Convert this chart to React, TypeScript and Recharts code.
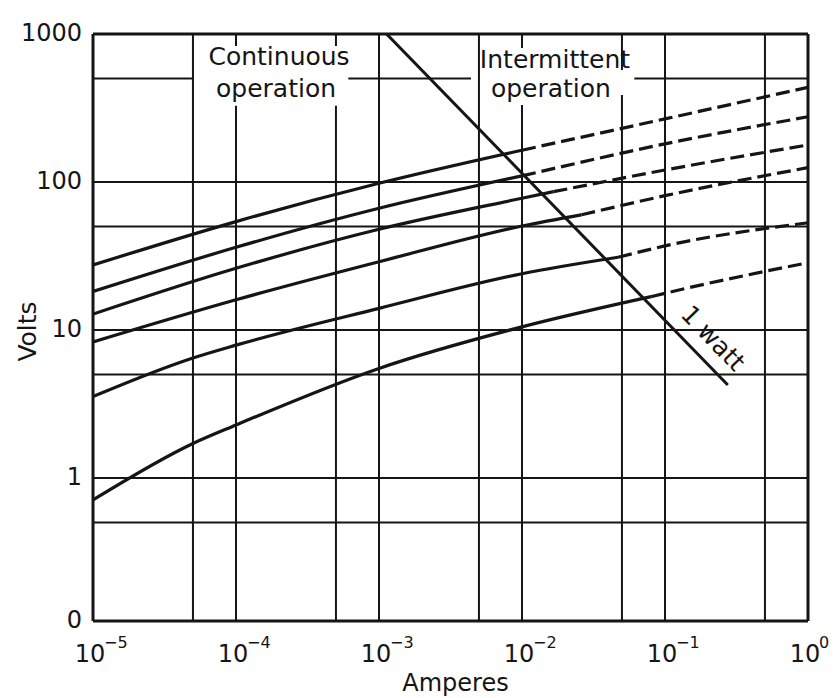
import { LineChart, Line, XAxis, YAxis, ReferenceLine, ReferenceDot } from "recharts";

const FONT = "'DejaVu Sans', sans-serif";
const INK = "#151515";

// log axes: amperes 1e-5..1, volts ~0.1..1000 (bottom line is labelled "0")
const Y_MIN = 0.108;
const X_TICKS = [1e-5, 1e-4, 1e-3, 1e-2, 1e-1, 1];
const X_EXP = ["−5", "−4", "−3", "−2", "−1", "0"];
const Y_TICKS = [Y_MIN, 1, 10, 100, 1000];
const Y_LABELS = ["0", "1", "10", "100", "1000"];

// grid lines, with the gaps left for the two captions
// [amperes, volts from, volts to]
const X_GRID: [number, number, number][] = [
  [5e-5, Y_MIN, 1000],
  [1e-4, Y_MIN, 327], [1e-4, 830, 1000],
  [5e-4, Y_MIN, 327], [5e-4, 830, 1000],
  [1e-3, Y_MIN, 1000],
  [5e-3, Y_MIN, 1000],
  [1e-2, Y_MIN, 331], [1e-2, 804, 1000],
  [5e-2, Y_MIN, 387], [5e-2, 571, 1000],
  [1e-1, Y_MIN, 1000],
  [5e-1, Y_MIN, 1000],
];
// [volts, amperes from, amperes to]
const Y_GRID: [number, number, number][] = [
  [0.5, 1e-5, 1],
  [1, 1e-5, 1],
  [5, 1e-5, 1],
  [10, 1e-5, 1],
  [50, 1e-5, 1],
  [100, 1e-5, 1],
  [500, 1e-5, 5e-5], [500, 6.1e-4, 4.4e-3], [500, 6.1e-2, 1],
];

// V-I curves, solid part (continuous) and dashed part (intermittent)
const C1_SOLID = [{ i: 1e-5, v: 27.5 }, { i: 1e-4, v: 54 }, { i: 1e-3, v: 98 }, { i: 1e-2, v: 164 }];
const C1_DASHED = [{ i: 1e-2, v: 164 }, { i: 1e-1, v: 267 }, { i: 1, v: 436 }];
const C2_SOLID = [{ i: 1e-5, v: 18.2 }, { i: 1e-4, v: 36.2 }, { i: 1e-3, v: 66.4 }, { i: 1e-2, v: 110 }];
const C2_DASHED = [{ i: 1e-2, v: 110 }, { i: 1e-1, v: 181 }, { i: 1, v: 276 }];
const C3_SOLID = [{ i: 1e-5, v: 12.8 }, { i: 1e-4, v: 26.1 }, { i: 1e-3, v: 47.9 }, { i: 1e-2, v: 77.6 }, { i: 1.66e-2, v: 86 }];
const C3_DASHED = [{ i: 1.66e-2, v: 86 }, { i: 1e-1, v: 120.5 }, { i: 1, v: 178 }];
const C4_SOLID = [{ i: 1e-5, v: 8.3 }, { i: 1e-4, v: 16 }, { i: 1e-3, v: 28.9 }, { i: 1e-2, v: 50.4 }, { i: 2.6e-2, v: 60 }];
const C4_DASHED = [{ i: 2.6e-2, v: 60 }, { i: 1e-1, v: 80.8 }, { i: 1, v: 125 }];
const C5_SOLID = [{ i: 1e-5, v: 3.55 }, { i: 5e-5, v: 6.47 }, { i: 1e-4, v: 7.9 }, { i: 1e-3, v: 14 }, { i: 1e-2, v: 24 }, { i: 4.7e-2, v: 31 }];
const C5_DASHED = [{ i: 4.7e-2, v: 31 }, { i: 1e-1, v: 37 }, { i: 1, v: 53 }];
const C6_SOLID = [{ i: 1e-5, v: 0.71 }, { i: 5e-5, v: 1.71 }, { i: 1e-4, v: 2.28 }, { i: 1e-3, v: 5.5 }, { i: 1e-2, v: 10.5 }, { i: 8e-2, v: 16.8 }];
const C6_DASHED = [{ i: 8e-2, v: 16.8 }, { i: 1e-1, v: 17.7 }, { i: 1, v: 28.5 }];

// 1 watt dissipation limit
const WATT_LINE = [{ i: 1.13e-3, v: 1000 }, { i: 0.275, v: 4.25 }];

const CURVES = [
  [C1_SOLID, C1_DASHED],
  [C2_SOLID, C2_DASHED],
  [C3_SOLID, C3_DASHED],
  [C4_SOLID, C4_DASHED],
  [C5_SOLID, C5_DASHED],
  [C6_SOLID, C6_DASHED],
];

const txt = { fontFamily: FONT, fill: INK };

const XTick = ({ x, y, payload }: any) => {
  const k = X_TICKS.indexOf(payload.value);
  return (
    <g>
      <text x={x - 3} y={y + 41} textAnchor="middle" fontSize={24} {...txt}>10</text>
      <text x={x + 11} y={y + 27} textAnchor="start" fontSize={16} {...txt}>{X_EXP[k]}</text>
    </g>
  );
};

const YTick = ({ x, y, payload }: any) => {
  const k = Y_TICKS.indexOf(payload.value);
  return (
    <text x={x - 11} y={y - 1} textAnchor="end" dominantBaseline="central" fontSize={24} {...txt}>
      {Y_LABELS[k]}
    </text>
  );
};

const caption = (top: string, bottom: string, dTop: number, dx2: number) => ({ viewBox }: any) => {
  const cx = viewBox.x + viewBox.width / 2;
  const cy = viewBox.y + viewBox.height / 2;
  return (
    <g>
      <text x={cx} y={cy + dTop} textAnchor="middle" fontSize={25} {...txt}>{top}</text>
      <text x={cx + dx2} y={cy + 16} textAnchor="middle" fontSize={25} {...txt}>{bottom}</text>
    </g>
  );
};

const wattLabel = ({ viewBox }: any) => {
  const cx = viewBox.x + viewBox.width / 2;
  const cy = viewBox.y + viewBox.height / 2;
  return (
    <text
      x={cx}
      y={cy}
      textAnchor="middle"
      dominantBaseline="central"
      fontSize={25}
      transform={`rotate(46 ${cx} ${cy})`}
      {...txt}
    >
      1 watt
    </text>
  );
};

export default function App() {
  return (
    <div style={{ position: "absolute", left: 0, top: 0, width: 838, height: 698, background: "#fff" }}>
      <LineChart width={838} height={698} margin={{ top: 34, right: 30, bottom: 0, left: 0 }}>
        <XAxis
          dataKey="i"
          type="number"
          scale="log"
          domain={[1e-5, 1]}
          allowDataOverflow
          ticks={X_TICKS}
          interval={0}
          height={77}
          axisLine={false}
          tickLine={false}
          tickSize={0}
          tickMargin={0}
          tick={<XTick />}
          label={({ viewBox }: any) => (
            <text x={viewBox.x + viewBox.width / 2 + 5} y={viewBox.y + 70} textAnchor="middle" fontSize={24} {...txt}>
              Amperes
            </text>
          )}
        />
        <YAxis
          dataKey="v"
          type="number"
          scale="log"
          domain={[Y_MIN, 1000]}
          allowDataOverflow
          ticks={Y_TICKS}
          interval={0}
          width={93}
          axisLine={false}
          tickLine={false}
          tickSize={0}
          tickMargin={0}
          tick={<YTick />}
          label={({ viewBox }: any) => {
            const lx = viewBox.x + 27;
            const ly = viewBox.y + viewBox.height / 2 + 4;
            return (
              <text x={lx} y={ly} textAnchor="middle" dominantBaseline="central" fontSize={25}
                transform={`rotate(-90 ${lx} ${ly})`} {...txt}>
                Volts
              </text>
            );
          }}
        />

        {/* grid */}
        {X_GRID.map(([i, a, b], n) => (
          <ReferenceLine key={`vx${n}`} segment={[{ x: i, y: a }, { x: i, y: b }]} stroke={INK} strokeWidth={2} ifOverflow="visible" />
        ))}
        {Y_GRID.map(([v, a, b], n) => (
          <ReferenceLine key={`hy${n}`} segment={[{ x: a, y: v }, { x: b, y: v }]} stroke={INK} strokeWidth={2} ifOverflow="visible" />
        ))}

        {/* frame */}
        <ReferenceLine segment={[{ x: 1e-5, y: Y_MIN }, { x: 1, y: Y_MIN }]} stroke={INK} strokeWidth={3} ifOverflow="visible" />
        <ReferenceLine segment={[{ x: 1e-5, y: 1000 }, { x: 1, y: 1000 }]} stroke={INK} strokeWidth={3} ifOverflow="visible" />
        <ReferenceLine segment={[{ x: 1e-5, y: Y_MIN }, { x: 1e-5, y: 1000 }]} stroke={INK} strokeWidth={3} ifOverflow="visible" />
        <ReferenceLine segment={[{ x: 1, y: Y_MIN }, { x: 1, y: 1000 }]} stroke={INK} strokeWidth={3} ifOverflow="visible" />

        {CURVES.map(([solid, dashed], n) => [
          <Line key={`s${n}`} data={solid} dataKey="v" type="monotone" stroke={INK} strokeWidth={3.2}
            dot={false} activeDot={false} isAnimationActive={false} />,
          <Line key={`d${n}`} data={dashed} dataKey="v" type="monotone" stroke={INK} strokeWidth={3.2}
            strokeDasharray="14 6" dot={false} activeDot={false} isAnimationActive={false} />,
        ])}

        <Line data={WATT_LINE} dataKey="v" type="linear" stroke={INK} strokeWidth={3}
          dot={false} activeDot={false} isAnimationActive={false} />

        <ReferenceDot x={2e-4} y={480} r={1} fill="none" stroke="none" label={caption("Continuous", "operation", -16, -3)} />
        <ReferenceDot x={1.7e-2} y={480} r={1} fill="none" stroke="none" label={caption("Intermittent", "operation", -13, -4)} />
        <ReferenceDot x={0.217} y={8.8} r={1} fill="none" stroke="none" label={wattLabel} />
      </LineChart>
    </div>
  );
}
